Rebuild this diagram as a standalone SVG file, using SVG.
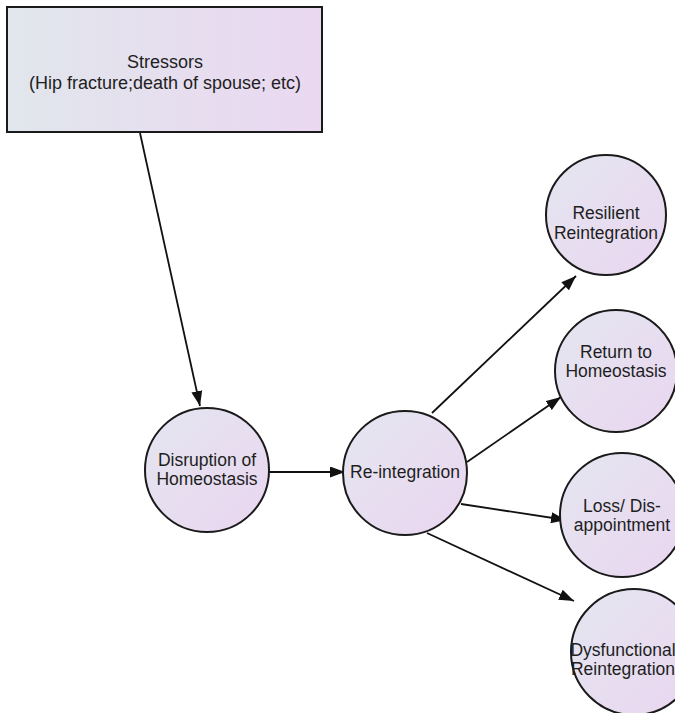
<svg xmlns="http://www.w3.org/2000/svg" width="675" height="713" viewBox="0 0 675 713">
<defs>
<linearGradient id="gBox" x1="0" y1="0" x2="1" y2="0">
<stop offset="0" stop-color="#e1e6ec"/>
<stop offset="1" stop-color="#ead8f1"/>
</linearGradient>
<linearGradient id="gCirc" x1="0" y1="0" x2="1" y2="1">
<stop offset="0" stop-color="#e4e6f0"/>
<stop offset="1" stop-color="#ead6f0"/>
</linearGradient>
<marker id="arr" markerWidth="15" markerHeight="11" refX="15" refY="5.5" orient="auto" markerUnits="userSpaceOnUse">
<path d="M0,0 L15,5.5 L0,11 Z" fill="#111"/>
</marker>
<style>
.node{stroke:#1a1a1a;stroke-width:2;}
.box{fill:url(#gBox);}
.circ{fill:url(#gCirc);}
text{font-family:"Liberation Sans",Arial,sans-serif;font-size:17.5px;fill:#1e1e1e;text-anchor:middle;}
.big{font-size:18px;}
.edge{stroke:#111;stroke-width:1.8;fill:none;marker-end:url(#arr);}
</style>
</defs>
<g id="connectors">
<line class="edge" x1="140" y1="133" x2="200" y2="406"/>
<line class="edge" x1="268" y1="472" x2="345" y2="472"/>
<line class="edge" x1="432" y1="413" x2="576" y2="276"/>
<line class="edge" x1="467" y1="462" x2="561" y2="397"/>
<line class="edge" x1="461" y1="504" x2="566" y2="520"/>
<line class="edge" x1="427" y1="533" x2="574" y2="601"/>
</g>
<g id="stressors">
<rect class="node box" x="7" y="7" width="315" height="125"/>
<text class="big" x="165" y="68">Stressors</text>
<text class="big" x="165" y="89">(Hip fracture;death of spouse; etc)</text>
</g>
<g id="disruption">
<circle class="node circ" cx="207" cy="470" r="62"/>
<text x="207" y="466">Disruption of</text>
<text x="207" y="485">Homeostasis</text>
</g>
<g id="reintegration">
<circle class="node circ" cx="405" cy="473" r="62"/>
<text x="405" y="478">Re-integration</text>
</g>
<g id="resilient">
<circle class="node circ" cx="606" cy="215" r="60"/>
<text x="606" y="219">Resilient</text>
<text x="606" y="239">Reintegration</text>
</g>
<g id="return">
<circle class="node circ" cx="616" cy="371" r="61"/>
<text x="616" y="358">Return to</text>
<text x="616" y="377">Homeostasis</text>
</g>
<g id="loss">
<circle class="node circ" cx="622" cy="515" r="62"/>
<text x="622" y="512">Loss/ Dis-</text>
<text x="622" y="531">appointment</text>
</g>
<g id="dysfunctional">
<circle class="node circ" cx="634" cy="652" r="63"/>
<text x="623" y="656">Dysfunctional</text>
<text x="623" y="675">Reintegration</text>
</g>
</svg>
